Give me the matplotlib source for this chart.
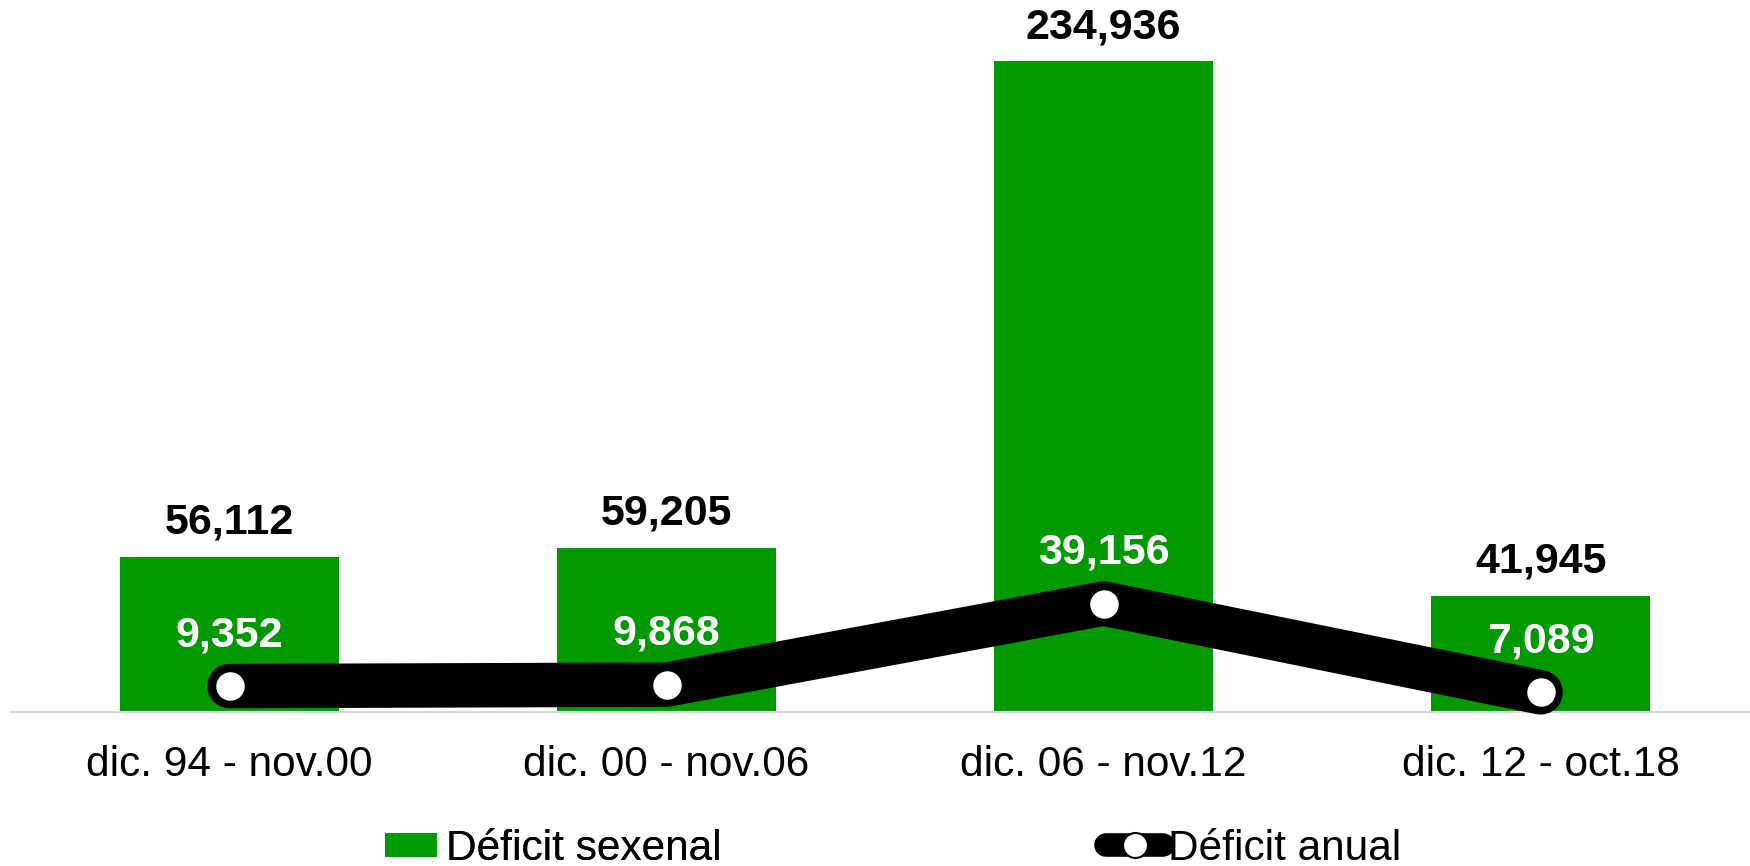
import matplotlib
matplotlib.use("Agg")
import matplotlib.pyplot as plt
from matplotlib.patches import Patch
from matplotlib.lines import Line2D

plt.rcParams['font.family'] = ['Liberation Sans', 'DejaVu Sans']

categories = ["dic. 94 - nov.00", "dic. 00 - nov.06", "dic. 06 - nov.12", "dic. 12 - oct.18"]
sexenal = [56112, 59205, 234936, 41945]
anual = [9352, 9868, 39156, 7089]

GREEN = '#009900'
W, H = 1750, 866
fig = plt.figure(figsize=(W / 100, H / 100), dpi=100)
ax = fig.add_axes([11 / W, (H - 712) / H, 1 - 11 / W, 712 / H])

x = list(range(len(categories)))
ax.bar(x, sexenal, width=0.5, color=GREEN, zorder=2)
ax.plot(x, anual, color='black', lw=32, solid_capstyle='round', solid_joinstyle='round',
        marker='o', markersize=22, markerfacecolor='white', markeredgecolor='black',
        markeredgewidth=1.5, zorder=3, clip_on=False)

ax.set_xlim(-0.5, 3.479)
ax.set_ylim(0, 257000)

for xi, v in zip(x, sexenal):
    ax.annotate(f"{v:,}", (xi, v), xytext=(0, 34), textcoords='offset pixels',
                ha='center', va='center', fontsize=31, fontweight='bold', color='black', zorder=5)
for xi, v in zip(x, anual):
    ax.annotate(f"{v:,}", (xi, v), xytext=(0, 51), textcoords='offset pixels',
                ha='center', va='center', fontsize=31, fontweight='bold', color='white', zorder=5)

for s in ['top', 'right', 'left']:
    ax.spines[s].set_visible(False)
ax.spines['bottom'].set_color('#d9d9d9')
ax.spines['bottom'].set_linewidth(1.5)
ax.set_yticks([])
ax.set_xticks(x)
ax.set_xticklabels(categories, fontsize=30.5)
ax.tick_params(axis='x', length=0, pad=24)

leg1 = fig.legend(handles=[Patch(facecolor=GREEN, label='Déficit sexenal')],
                  loc='center left', bbox_to_anchor=(385 / W, 1 - 849 / H),
                  frameon=False, fontsize=30.5, handlelength=1.23, handleheight=0.52,
                  handletextpad=0.2, borderaxespad=0, borderpad=0)
line_handle = Line2D([], [], color='black', lw=17, solid_capstyle='round', marker='o',
                     markersize=18, markerfacecolor='white', markeredgecolor='black',
                     markeredgewidth=1.5, label='Déficit anual')
leg2 = fig.legend(handles=[line_handle], loc='center left',
                  bbox_to_anchor=(1106 / W, 1 - 849 / H), frameon=False, fontsize=30.5,
                  handlelength=1.35, handletextpad=0.12, borderaxespad=0, borderpad=0)
fig.add_artist(leg1)

fig.savefig('out.png', dpi=100)
